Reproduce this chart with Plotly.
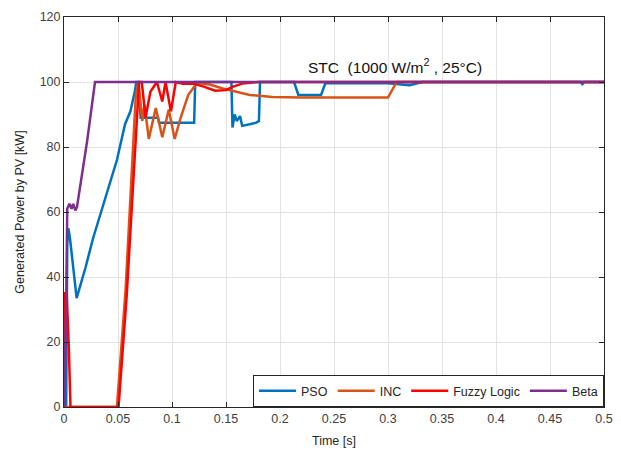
import plotly.graph_objects as go

# ---- data ----
pso_t = [0, 0.002, 0.003, 0.004, 0.0055, 0.0117, 0.02, 0.027, 0.038, 0.049, 0.0565, 0.059, 0.0615,
         0.0655, 0.067, 0.069, 0.071, 0.087, 0.088, 0.1205, 0.1215, 0.155, 0.156, 0.158, 0.160,
         0.163, 0.165, 0.172, 0.178, 0.1805, 0.1815, 0.213, 0.217, 0.238, 0.242, 0.25, 0.30,
         0.32, 0.325, 0.332, 0.36, 0.478, 0.48, 0.482, 0.5]
pso_p = [0, 0, 50, 55, 52, 33.5, 43, 52, 64, 76, 87, 89, 91,
         97, 100, 100, 89, 89, 87.5, 87.5, 100, 100, 86, 90, 88,
         89.5, 86.5, 87, 87.5, 88, 100, 100, 96, 96, 99.6, 99.6, 99.6,
         99.0, 99.4, 100, 100, 100, 99.3, 100, 100]

inc_t = [0, 0.049, 0.057, 0.0665, 0.069, 0.0725, 0.0745, 0.0785, 0.085, 0.091, 0.097, 0.1025,
         0.108, 0.115, 0.123, 0.135, 0.147, 0.160, 0.172, 0.193, 0.22, 0.30, 0.303, 0.308, 0.5]
inc_p = [0, 0, 36, 96, 100, 88, 93, 82.5, 92, 83, 91.5, 82.5,
         89, 96, 99.7, 99.2, 98, 97, 96, 95.4, 95.2, 95.2, 97, 100, 100]

fuzzy_t = [0, 0.0008, 0.0025, 0.0035, 0.0045, 0.006, 0.0505, 0.058, 0.0695, 0.072, 0.0755, 0.08,
           0.086, 0.091, 0.094, 0.099, 0.1035, 0.11, 0.12, 0.13, 0.14, 0.15, 0.156, 0.165, 0.18, 0.5]
fuzzy_p = [0, 35, 35, 22, 18, 0, 0, 34, 100, 100, 89, 97,
           100, 94, 100, 91, 100, 99.5, 99.5, 98.5, 97.3, 97.5, 98.5, 99.5, 100, 100]

beta_t = [0, 0.002, 0.003, 0.005, 0.007, 0.0085, 0.0105, 0.012, 0.0215, 0.0287, 0.5]
beta_p = [0, 30, 61, 62.5, 61, 62.5, 60.5, 61.5, 82, 100, 100]

series = [
    ("PSO", pso_t, pso_p, "#0072BD"),
    ("INC", inc_t, inc_p, "#D95319"),
    ("Fuzzy Logic", fuzzy_t, fuzzy_p, "#FF0000"),
    ("Beta", beta_t, beta_p, "#7E2F8E"),
]

x_ticks = [0, 0.05, 0.1, 0.15, 0.2, 0.25, 0.3, 0.35, 0.4, 0.45, 0.5]
x_tick_labels = ["0", "0.05", "0.1", "0.15", "0.2", "0.25", "0.3", "0.35", "0.4", "0.45", "0.5"]
y_ticks = [0, 20, 40, 60, 80, 100, 120]

fig = go.Figure()
for name, t, p, c in series:
    fig.add_trace(go.Scatter(x=t, y=p, mode="lines", name=name,
                             line=dict(color=c, width=2.5)))

axis_common = dict(
    showline=True, linecolor="#262626", linewidth=1, mirror="ticks",
    ticks="inside", ticklen=5, tickcolor="#262626", automargin=False,
    showgrid=True, gridcolor="#e3e3e3", gridwidth=1, zeroline=False,
    tickfont=dict(family="Liberation Sans, Arial", size=12.5, color="#404040"),
)

fig.update_layout(
    width=621, height=452,
    margin=dict(l=64, r=17, t=17, b=45),
    paper_bgcolor="white", plot_bgcolor="white",
    font=dict(family="Liberation Sans, Arial", color="#262626"),
    xaxis=dict(range=[0, 0.5], tickvals=x_ticks, ticktext=x_tick_labels,
               title=dict(text="Time [s]", font=dict(size=12.5, color="#262626"), standoff=11),
               **axis_common),
    yaxis=dict(range=[0, 120], tickvals=y_ticks,
               title=dict(text="Generated Power by PV [kW]", font=dict(size=12.5, color="#262626"), standoff=12),
               **axis_common),
    legend=dict(orientation="h", x=1, y=0, xanchor="right", yanchor="bottom",
                bgcolor="white", bordercolor="#262626", borderwidth=1,
                itemwidth=37,
                font=dict(size=12.5, color="#262626"), tracegroupgap=0),
    showlegend=True,
)

fig.add_annotation(x=0.3065, y=105, xref="x", yref="y",
                   text="STC  (1000 W/m<sup>2</sup> , 25°C)", showarrow=False,
                   font=dict(size=15.5, color="#111111", family="Liberation Sans, Arial"))

fig.write_html("out.html", config={"displayModeBar": False},
               post_script="document.body.style.margin='0';document.body.style.padding='0';document.body.style.overflow='hidden';")
